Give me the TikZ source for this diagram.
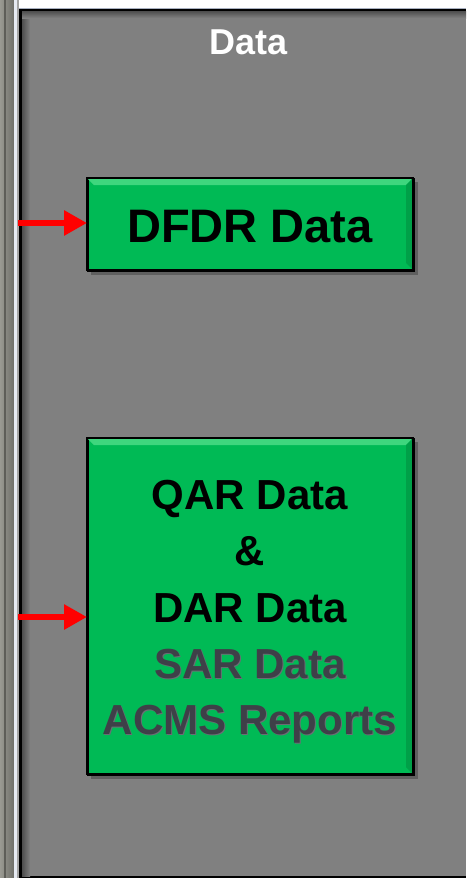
\documentclass[tikz,border=0pt]{standalone}
\usepackage{fontspec}
\setmainfont{Liberation Sans}
\usetikzlibrary{arrows.meta}
\definecolor{panelgray}{HTML}{808080}
\definecolor{boxgreen}{HTML}{00BA55}
\definecolor{bevellight}{HTML}{3FD67E}
\definecolor{beveldark}{HTML}{00A048}
\definecolor{dimtext}{HTML}{3E4048}
\definecolor{dimshadow}{HTML}{6A6E74}
\definecolor{arrowred}{HTML}{FF0000}
\definecolor{stripa}{HTML}{9A9A92}
\definecolor{stripb}{HTML}{6E6E68}
\definecolor{stripc}{HTML}{5E5E58}
\definecolor{stripd}{HTML}{E6EAF2}
\definecolor{stripe}{HTML}{A4A4A4}
\definecolor{topline}{HTML}{A8B0C0}
\definecolor{innershadow}{HTML}{4E4E4E}
\tikzset{
  greenbox/.style={draw=black, line width=2pt, fill=boxgreen, inner sep=0pt, anchor=north west},
  boxshadow/.style={fill=black, opacity=0.25},
  redarrow/.style={draw=arrowred, line width=6.5pt, -{Triangle[length=23pt, width=24pt]}},
  bigtext/.style={font=\fontsize{42}{56}\selectfont\bfseries, anchor=base, inner sep=0pt},
}
\begin{document}
\begin{tikzpicture}[x=1pt, y=-1pt]
\useasboundingbox (0,0) rectangle (466,878);
% left frame strip
\shade[left color=stripa, right color=stripb] (0,0) rectangle (14,878);
\fill[stripc] (4,0) rectangle (6,878);
\fill[stripd] (14,0) rectangle (17,878);
\fill[stripe] (17,0) rectangle (19,878);
% top white band
\fill[white] (19,0) rectangle (466,8);
\fill[topline] (19,8) rectangle (466,9);
% panel
\fill[panelgray] (19,9) rectangle (466,878);
\fill[black] (19,9) rectangle (466,11);
\fill[black] (19,9) rectangle (22,878);
\fill[black] (19,876) rectangle (466,878);
\shade[left color=innershadow, right color=panelgray] (22,11) rectangle (30,876);
\shade[top color=innershadow, bottom color=panelgray] (22,11) rectangle (466,18);
% title
\node[font=\fontsize{36}{40}\selectfont\bfseries, text=white, anchor=base, inner sep=0pt] (title) at (249,54) {Data};
% DFDR box
\fill[boxshadow] (91,182) rectangle (418,275);
\node[greenbox, minimum width=326pt, minimum height=92pt] (dfdr) at (87,178) {};
\fill[bevellight] (88,179) -- (412,179) -- (406,185) -- (94,185) -- cycle;
\fill[beveldark] (412,179) -- (412,269) -- (406,263) -- (406,185) -- cycle;
\draw[black, line width=2pt] (87,178) rectangle (413,270);
\node[font=\fontsize{47}{50}\selectfont\bfseries, anchor=base, inner sep=0pt] (dfdrtext) at (250,242) {DFDR Data};
% QAR box
\fill[boxshadow] (91,442) rectangle (418,779);
\node[greenbox, minimum width=326pt, minimum height=336pt] (acq) at (87,438) {};
\fill[bevellight] (88,439) -- (412,439) -- (406,445) -- (94,445) -- cycle;
\fill[beveldark] (412,439) -- (412,773) -- (406,767) -- (406,445) -- cycle;
\draw[black, line width=2pt] (87,438) rectangle (413,774);
\node[bigtext] (qar) at (250,509) {QAR Data};
\node[bigtext] (amp) at (250,565) {\&};
\node[bigtext] (dar) at (250,622) {DAR Data};
\node[bigtext, text=dimshadow] at (251,679) {SAR Data};
\node[bigtext, text=dimtext] (sar) at (250,678) {SAR Data};
\node[bigtext, text=dimshadow] at (251,735) {ACMS Reports};
\node[bigtext, text=dimtext] (acms) at (250,734) {ACMS Reports};
% arrows
\coordinate (a1) at (18,223);
\coordinate (a2) at (18,617);
\draw[redarrow] (a1) -- (a1 -| dfdr.west);
\draw[redarrow] (a2) -- (a2 -| acq.west);
\end{tikzpicture}
\end{document}
